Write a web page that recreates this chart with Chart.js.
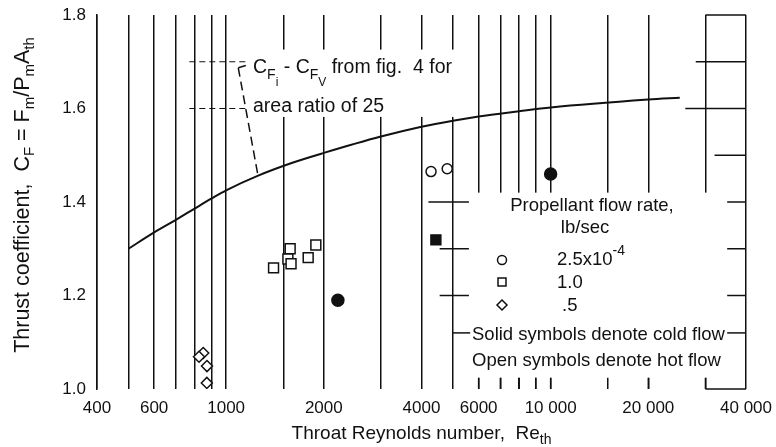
<!DOCTYPE html>
<html>
<head>
<meta charset="utf-8">
<script src="https://cdn.jsdelivr.net/npm/chart.js@4/dist/chart.umd.min.js"></script>
<style>
  html, body { margin: 0; padding: 0; background: #fff; }
  #wrap { width: 776px; height: 447px; position: relative; }
</style>
</head>
<body>
<div id="wrap"><canvas id="chart"></canvas></div>
<script>
const FONT = "'Liberation Sans', Arial, sans-serif";
const INK = '#111';

// C_Fi - C_FV curve from fig. 4, area ratio 25
const curveRe = [500, 600, 700, 800, 900, 1000, 1250, 1600, 2000, 3000, 4000, 5000, 6000, 8000, 10000, 20000, 25000];
const curveCf = [1.30, 1.335, 1.362, 1.386, 1.407, 1.425, 1.456, 1.484, 1.505, 1.54, 1.561, 1.574, 1.583, 1.594, 1.602, 1.619, 1.623];

// 2.5x10^-4 lb/sec
const hotRe25 = [4280, 4800];
const hotCf25 = [1.465, 1.471];
const coldRe25 = [2210, 10000];
const coldCf25 = [1.19, 1.46];
// 1.0 lb/sec
const hotRe10 = [1400, 1575, 1550, 1585, 1790, 1890];
const hotCf10 = [1.259, 1.30, 1.278, 1.268, 1.281, 1.308];
const coldRe10 = [4430];
const coldCf10 = [1.319];
// .5 lb/sec
const hotRe05 = [850, 825, 873, 872];
const hotCf05 = [1.077, 1.069, 1.049, 1.013];

const xTickValues = [400, 600, 1000, 2000, 4000, 6000, 10000, 20000, 40000];
const xTickLabels = ['400', '600', '1000', '2000', '4000', '6000', '10 000', '20 000', '40 000'];
const yTickValues = [1.0, 1.2, 1.4, 1.6, 1.8];
const yTickLabels = ['1.0', '1.2', '1.4', '1.6', '1.8'];

const pts = (xs, ys) => xs.map((x, i) => ({ x: x, y: ys[i] }));

function marker(style, radius, filled) {
  return {
    type: 'scatter',
    pointStyle: style,
    pointRadius: radius,
    borderColor: INK,
    backgroundColor: filled ? INK : '#fff',
    borderWidth: 1.5
  };
}

// draws text pieces with sub/superscripts: [text, size, dy]
function rich(ctx, x, y, parts, align) {
  let w = 0;
  parts.forEach(p => { ctx.font = p[1] + 'px ' + FONT; w += ctx.measureText(p[0]).width; });
  let cx = align === 'center' ? x - w / 2 : x;
  parts.forEach(p => {
    ctx.font = p[1] + 'px ' + FONT;
    ctx.fillText(p[0], cx, y + p[2]);
    cx += ctx.measureText(p[0]).width;
  });
}

const decor = {
  id: 'decor',
  beforeDatasetsDraw(chart) {
    const { ctx } = chart;
    const X = v => chart.scales.x.getPixelForValue(v);
    const Y = v => chart.scales.y.getPixelForValue(v);
    const seg = (x1, y1, x2, y2) => { ctx.beginPath(); ctx.moveTo(x1, y1); ctx.lineTo(x2, y2); ctx.stroke(); };
    ctx.save();
    // blank space behind the notes
    ctx.fillStyle = '#fff';
    ctx.fillRect(X(1200), Y(1.726), X(5600) - X(1200), Y(1.582) - Y(1.726));
    ctx.fillRect(X(5200), Y(1.42), X(39000) - X(5200), Y(1.024) - Y(1.42));

    ctx.strokeStyle = INK;
    ctx.lineWidth = 1.5;
    // what is left of the horizontal grid
    [[1.8, 30000], [1.7, 28000], [1.6, 26000], [1.5, 32000], [1.4, 35000], [1.3, 35000], [1.2, 35000], [1.12, 35000], [1.0, 30000]]
      .forEach(s => seg(X(s[1]), Y(s[0]), X(40000), Y(s[0])));
    [[1.4, 4200, 5600], [1.3, 4550, 5600], [1.2, 4550, 5600], [1.12, 5000, 5650]]
      .forEach(s => seg(X(s[1]), Y(s[0]), X(s[2]), Y(s[0])));
    [6000, 7000, 8000, 9000, 10000, 20000, 30000].forEach(v => seg(X(v), Y(1.0), X(v), Y(1.024)));
    ctx.lineWidth = 1;
    ctx.setLineDash([6, 4]);
    seg(X(770), Y(1.7), X(1170), Y(1.7));
    seg(X(770), Y(1.6), X(1170), Y(1.6));
    // leader to the curve
    ctx.lineWidth = 1.5;
    ctx.setLineDash([9, 5]);
    seg(X(1090), Y(1.687), X(1254), Y(1.456));
    ctx.setLineDash([]);
    seg(X(1090), Y(1.687), X(1150), Y(1.692));
    ctx.restore();
  },
  afterDatasetsDraw(chart) {
    const { ctx } = chart;
    ctx.save();
    ctx.fillStyle = INK;
    ctx.textAlign = 'left';
    ctx.textBaseline = 'alphabetic';

    // note on the curve
    rich(ctx, 253, 73, [['C', 19.5, 0], ['F', 14, 6], ['i', 12, 13], [' - C', 19.5, 0], ['F', 14, 6], ['V', 12, 13], [' from fig.  4 for', 19.5, 0]], 'left');
    rich(ctx, 253, 112, [['area ratio of 25', 19.5, 0]], 'left');

    // key
    rich(ctx, 592, 211, [['Propellant flow rate,', 18.5, 0]], 'center');
    rich(ctx, 585, 233, [['lb/sec', 18.5, 0]], 'center');
    rich(ctx, 557, 265, [['2.5x10', 18.5, 0], ['-4', 14, -10]], 'left');
    rich(ctx, 557, 288, [['1.0', 18.5, 0]], 'left');
    rich(ctx, 562, 311, [['.5', 18.5, 0]], 'left');
    rich(ctx, 472, 340, [['Solid symbols denote cold flow', 18.5, 0]], 'left');
    rich(ctx, 472, 366, [['Open symbols denote hot flow', 18.5, 0]], 'left');

    ctx.strokeStyle = INK;
    ctx.fillStyle = '#fff';
    ctx.lineWidth = 1.5;
    ctx.beginPath(); ctx.arc(502, 260, 4.5, 0, Math.PI * 2); ctx.fill(); ctx.stroke();
    ctx.beginPath(); ctx.rect(498, 278, 8, 8); ctx.fill(); ctx.stroke();
    ctx.beginPath(); ctx.moveTo(502, 300); ctx.lineTo(507, 305); ctx.lineTo(502, 310); ctx.lineTo(497, 305); ctx.closePath(); ctx.fill(); ctx.stroke();

    // axis titles
    ctx.fillStyle = INK;
    const a = chart.chartArea;
    rich(ctx, (a.left + a.right) / 2, 439, [['Throat Reynolds number,  Re', 19, 0], ['th', 14, 5]], 'center');
    ctx.translate(22, 195);
    ctx.rotate(-Math.PI / 2);
    rich(ctx, 0, 7, [['Thrust coefficient,  C', 21.5, 0], ['F', 15, 5], [' = F', 21.5, 0], ['m', 15, 5], ['/P', 21.5, 0], ['m', 15, 5], ['A', 21.5, 0], ['th', 15, 5]], 'center');
    ctx.restore();
  }
};

new Chart(document.getElementById('chart'), {
  type: 'scatter',
  data: {
    datasets: [
      {
        type: 'line',
        data: pts(curveRe, curveCf),
        borderColor: INK,
        borderWidth: 2,
        pointRadius: 0,
        fill: false,
        cubicInterpolationMode: 'monotone'
      },
      Object.assign(marker('circle', 5, false), { data: pts(hotRe25, hotCf25) }),
      Object.assign(marker('circle', 6, true), { data: pts(coldRe25, coldCf25) }),
      Object.assign(marker('rect', 7, false), { data: pts(hotRe10, hotCf10) }),
      Object.assign(marker('rect', 7, true), { data: pts(coldRe10, coldCf10) }),
      Object.assign(marker('rectRot', 5.5, false), { data: pts(hotRe05, hotCf05) })
    ]
  },
  options: {
    responsive: true,
    maintainAspectRatio: false,
    animation: false,
    events: [],
    layout: { padding: { top: 15, right: 30, left: 0, bottom: 0 } },
    plugins: { legend: { display: false }, tooltip: { enabled: false } },
    scales: {
      x: {
        type: 'logarithmic',
        min: 400,
        max: 40000,
        afterFit: s => { s.height = 58; s.paddingLeft = 0; s.paddingRight = 0; },
        border: { display: false },
        grid: { color: INK, lineWidth: 1.5, drawTicks: false },
        ticks: {
          autoSkip: false,
          maxRotation: 0,
          padding: 9,
          color: INK,
          font: { family: FONT, size: 17 },
          callback: v => {
            const i = xTickValues.indexOf(Math.round(v));
            return i >= 0 ? xTickLabels[i] : '';
          }
        }
      },
      y: {
        min: 1.0,
        max: 1.8,
        afterFit: s => { s.width = 97; s.paddingTop = 0; s.paddingBottom = 0; },
        border: { display: true, color: INK, width: 1.5 },
        grid: { display: false },
        ticks: {
          stepSize: 0.2,
          padding: 3,
          color: INK,
          font: { family: FONT, size: 17 },
          callback: v => {
            const i = yTickValues.findIndex(t => Math.abs(t - v) < 1e-6);
            return i >= 0 ? yTickLabels[i] : '';
          }
        }
      }
    }
  },
  plugins: [decor]
});
</script>
</body>
</html>
